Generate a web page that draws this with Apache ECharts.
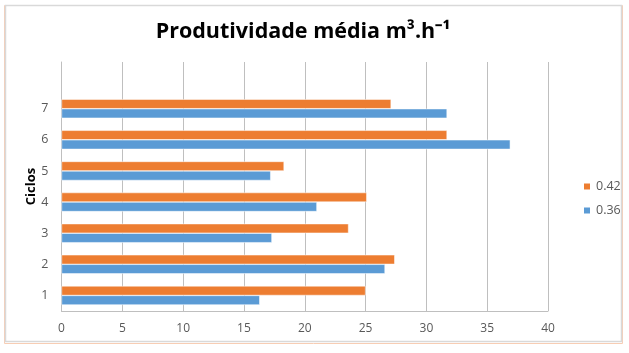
<!DOCTYPE html>
<html>
<head>
<meta charset="utf-8">
<script src="https://cdn.jsdelivr.net/npm/echarts@6/dist/echarts.min.js"></script>
<style>
  html, body { margin: 0; padding: 0; background: #fff; }
  #chart { width: 629px; height: 353px; }
</style>
</head>
<body>
<div id="chart"></div>
<script>
// cycles (top slot is empty, like the original)
const ciclos = ['1', '2', '3', '4', '5', '6', '7', ''];
const serie042 = [25.0, 27.4, 23.6, 25.1, 18.3, 31.7, 27.1, null];
const serie036 = [16.3, 26.6, 17.3, 21.0, 17.2, 36.9, 31.7, null];
const xTicks = [0, 5, 10, 15, 20, 25, 30, 35, 40];

const chart = echarts.init(document.getElementById('chart'));

chart.setOption({
  animation: false,
  textStyle: { fontFamily: 'Open Sans' },
  graphic: [
    // outer frame
    { type: 'rect', shape: { x: 4.5, y: 5.5, width: 618, height: 338 },
      style: { fill: 'none', stroke: '#f7cdb4', lineWidth: 1 }, z: -1 },
    { type: 'rect', shape: { x: 5.5, y: 5.5, width: 616, height: 336 },
      style: { fill: 'none', stroke: '#d9d9d9', lineWidth: 1.5 }, z: -1 }
  ],
  title: {
    text: 'Produtividade média m³.h⁻¹',
    left: 298,
    textAlign: 'center',
    top: 16,
    textStyle: { fontSize: 21.5, fontWeight: 'bold', color: '#000', fontFamily: 'Open Sans' }
  },
  legend: {
    orient: 'vertical',
    left: 577,
    top: 175,
    itemWidth: 8,
    itemHeight: 8,
    itemGap: 11,
    icon: 'rect',
    data: ['0.42', '0.36'],
    textStyle: { fontSize: 12.5, color: '#595959' }
  },
  grid: { left: 61.5, right: 81, top: 62, bottom: 42 },
  xAxis: {
    type: 'value',
    min: xTicks[0],
    max: xTicks[xTicks.length - 1],
    interval: 5,
    axisLine: { show: true, lineStyle: { color: '#bfbfbf' } },
    axisTick: { show: false },
    axisLabel: { color: '#595959', fontSize: 12, margin: 12 },
    splitLine: { lineStyle: { color: '#bfbfbf' } }
  },
  yAxis: {
    type: 'category',
    data: ciclos,
    name: 'Ciclos',
    nameLocation: 'middle',
    nameRotate: 90,
    nameGap: 24,
    nameMoveOverlap: false,
    nameTextStyle: { fontSize: 13, fontWeight: 'bold', color: '#000' },
    axisLine: { lineStyle: { color: '#bfbfbf' } },
    axisTick: { show: false },
    axisLabel: { color: '#595959', fontSize: 12.5, margin: 13 }
  },
  series: [
    {
      name: '0.42',
      type: 'bar',
      data: serie042,
      barWidth: 9.5,
      barGap: '0%',
      itemStyle: { color: '#ed7d31', borderColor: '#fff', borderWidth: 0.5 }
    },
    {
      name: '0.36',
      type: 'bar',
      data: serie036,
      barWidth: 9.5,
      itemStyle: { color: '#5b9bd5', borderColor: '#fff', borderWidth: 0.5 }
    }
  ]
});
</script>
</body>
</html>
